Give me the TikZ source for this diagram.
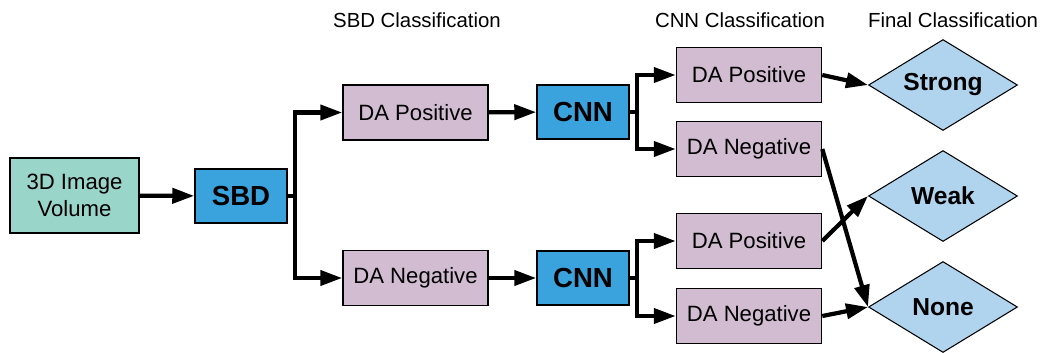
\documentclass[tikz,border=0pt]{standalone}
\usepackage{fontspec}
\setmainfont{Liberation Sans}
\usepackage{tikz}
\usetikzlibrary{arrows.meta}
\usetikzlibrary{shapes.geometric}

\definecolor{volteal}{HTML}{9AD5CA}
\definecolor{stageblue}{HTML}{3AA3DD}
\definecolor{damauve}{HTML}{D2BCD2}
\definecolor{gradeblue}{HTML}{B0D4EE}

\tikzset{
  volbox/.style={draw, line width=0.9pt, fill=volteal, minimum width=2.58cm, minimum height=1.5cm,
    align=center, font=\fontsize{12.6}{15.6}\selectfont},
  stagebox/.style={draw, line width=0.9pt, fill=stageblue, minimum width=1.84cm, minimum height=1.08cm,
    font=\fontsize{15.7}{18}\selectfont\bfseries},
  dabox/.style={draw, line width=0.9pt, fill=damauve, minimum width=2.9cm, minimum height=1.1cm,
    font=\fontsize{12.6}{15}\selectfont},
  grade/.style={draw, line width=0.6pt, diamond, aspect=1.64, inner sep=0pt, fill=gradeblue,
    minimum width=2.98cm, minimum height=1.82cm, font=\fontsize{14}{16}\selectfont\bfseries},
  heading/.style={font=\fontsize{11.6}{14}\selectfont},
  conn/.style={line width=2.4pt, -{Triangle[length=12.5pt,width=8.5pt]}},
  wire/.style={line width=2.4pt}
}

\begin{document}
\begin{tikzpicture}[x=0.02cm, y=-0.02cm]
  \useasboundingbox (0,0) rectangle (1044,352);

  % column headings
  \node [heading] (sbdhead) at (417,20) {SBD Classification};
  \node [heading] (cnnhead) at (740,20) {CNN Classification};
  \node [heading] (finalhead) at (953,20) {Final Classification};

  % input and first stage
  \node [volbox] (volume) at (74.5,195.5) {3D Image\\Volume};
  \node [stagebox] (sbd) at (241,196) {SBD};
  \node [dabox] (sbdpos) at (415.5,112.5) {DA Positive};
  \node [dabox] (sbdneg) at (415.5,278) {DA Negative};

  % second stage
  \node [stagebox] (cnntop) at (583,112) {CNN};
  \node [stagebox] (cnnbot) at (583,278) {CNN};
  \node [dabox] (toppos) at (749,75) {DA Positive};
  \node [dabox] (topneg) at (749,149) {DA Negative};
  \node [dabox] (botpos) at (749,241) {DA Positive};
  \node [dabox] (botneg) at (749,316) {DA Negative};

  % final grades
  \node [grade] (strong) at (943,85) {Strong};
  \node [grade] (weak) at (943,196) {Weak};
  \node [grade] (none) at (943,307) {None};

  % forks
  \coordinate (sbdfork) at (295,196);
  \coordinate (topfork) at (637,112);
  \coordinate (botfork) at (637,278);

  \draw [conn] (volume) -- (sbd);
  \draw [wire] (sbd.east) -- (sbdfork);
  \draw [conn] (sbdfork) |- (sbdpos);
  \draw [conn] (sbdfork) |- (sbdneg);
  \draw [conn] (sbdpos) -- (cnntop);
  \draw [conn] (sbdneg) -- (cnnbot);

  \draw [wire] (cnntop.east) -- (topfork);
  \draw [conn] (topfork) |- (toppos);
  \draw [conn] (topfork) |- (topneg);
  \draw [wire] (cnnbot.east) -- (botfork);
  \draw [conn] (botfork) |- (botpos);
  \draw [conn] (botfork) |- (botneg);

  \draw [conn] (toppos.east) -- (strong.west);
  \draw [conn] (topneg.east) -- (none.west);
  \draw [conn] (botpos.east) -- (weak.west);
  \draw [conn] (botneg.east) -- (none.west);
\end{tikzpicture}
\end{document}
